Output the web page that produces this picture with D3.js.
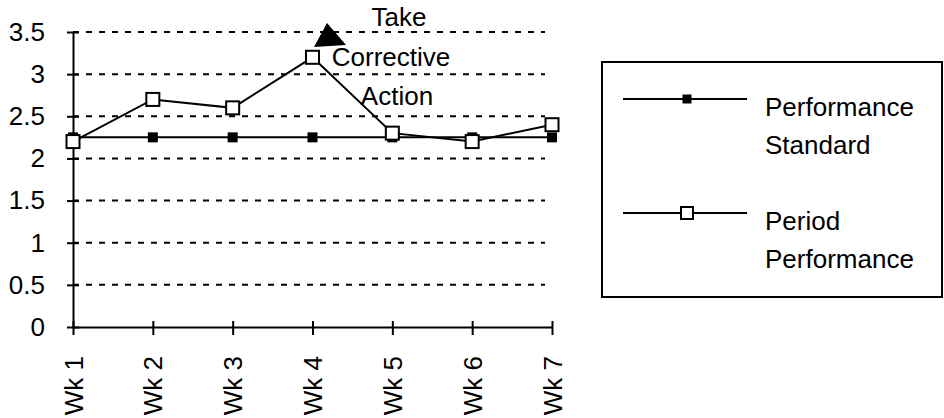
<!DOCTYPE html>
<html>
<head>
<meta charset="utf-8">
<script src="https://cdn.jsdelivr.net/npm/d3@7"></script>
<style>
  body { margin: 0; background: #fff; }
  svg { display: block; font-family: "Liberation Sans", Arial, sans-serif; }
</style>
</head>
<body>
<div id="chart"></div>
<script>
// data
const weeks = ["Wk 1", "Wk 2", "Wk 3", "Wk 4", "Wk 5", "Wk 6", "Wk 7"];
const standard = [2.25, 2.25, 2.25, 2.25, 2.25, 2.25, 2.25];
const period = [2.2, 2.7, 2.6, 3.2, 2.3, 2.2, 2.4];
const yTicks = [0, 0.5, 1, 1.5, 2, 2.5, 3, 3.5];
const noteLines = ["Take", "Corrective", "Action"];
const legendNames = [["Performance", "Standard"], ["Period", "Performance"]];

const width = 944, height = 418;
const svg = d3.select("#chart")
  .append("svg")
  .attr("width", width)
  .attr("height", height);

const x = d3.scalePoint()
  .domain(weeks)
  .range([73, 552]);
const y = d3.scaleLinear()
  .domain([0, 3.5])
  .range([327, 32]);

// dashed gridlines
svg.append("g")
  .selectAll("line")
  .data(yTicks.filter(d => d > 0))
  .enter().append("line")
  .attr("x1", x(weeks[0]))
  .attr("x2", 545)
  .attr("y1", d => y(d))
  .attr("y2", d => y(d))
  .attr("stroke", "#000")
  .attr("stroke-width", 2)
  .attr("stroke-dasharray", "6,7");

// y axis
const yAxis = svg.append("g")
  .attr("transform", `translate(${x(weeks[0])},0)`)
  .call(d3.axisLeft(y).tickValues(yTicks).tickSizeOuter(0).tickPadding(22).tickFormat(d3.format("")));
yAxis.select(".domain").attr("stroke-width", 2);
yAxis.selectAll(".tick line").attr("x1", 6).attr("x2", -6).attr("stroke-width", 2);
yAxis.selectAll(".tick text").attr("font-size", 26).attr("font-family", "Liberation Sans, Arial, sans-serif").attr("fill", "#000");

// x axis
const xAxis = svg.append("g")
  .attr("transform", `translate(0,${y(0)})`)
  .call(d3.axisBottom(x).tickSizeOuter(0));
xAxis.select(".domain").attr("stroke-width", 2);
xAxis.selectAll(".tick line").attr("y1", -6).attr("y2", 8).attr("stroke-width", 2);
xAxis.selectAll(".tick text")
  .attr("font-size", 26)
  .attr("font-family", "Liberation Sans, Arial, sans-serif")
  .attr("fill", "#000")
  .attr("text-anchor", "end")
  .attr("transform", "rotate(-90)")
  .attr("x", -29)
  .attr("y", 0)
  .attr("dy", "0.35em");

const line = d3.line()
  .x((d, i) => x(weeks[i]))
  .y(d => y(d));

// performance standard
svg.append("path")
  .datum(standard)
  .attr("fill", "none")
  .attr("stroke", "#000")
  .attr("stroke-width", 2)
  .attr("d", line);
svg.selectAll(".std")
  .data(standard)
  .enter().append("rect")
  .attr("class", "std")
  .attr("x", (d, i) => x(weeks[i]) - 5)
  .attr("y", d => y(d) - 5)
  .attr("width", 10)
  .attr("height", 10)
  .attr("fill", "#000");

// period performance
svg.append("path")
  .datum(period)
  .attr("fill", "none")
  .attr("stroke", "#000")
  .attr("stroke-width", 2)
  .attr("d", line);
svg.selectAll(".per")
  .data(period)
  .enter().append("rect")
  .attr("class", "per")
  .attr("x", (d, i) => x(weeks[i]) - 6.5)
  .attr("y", d => y(d) - 6.5)
  .attr("width", 13)
  .attr("height", 13)
  .attr("fill", "#fff")
  .attr("stroke", "#000")
  .attr("stroke-width", 2);

// annotation arrowhead and text
svg.append("path")
  .attr("d", "M327,23 L314,47 L346,45 Z")
  .attr("fill", "#000");
svg.selectAll(".note")
  .data(noteLines)
  .enter().append("text")
  .attr("class", "note")
  .attr("x", (d, i) => [399, 391, 397][i])
  .attr("y", (d, i) => 26 + i * 39.5)
  .attr("text-anchor", "middle")
  .attr("font-size", 26)
  .text(d => d);

// legend
const legend = svg.append("g");
legend.append("rect")
  .attr("x", 602)
  .attr("y", 62)
  .attr("width", 340)
  .attr("height", 235)
  .attr("fill", "#fff")
  .attr("stroke", "#000")
  .attr("stroke-width", 2);

const items = legend.selectAll(".item")
  .data(legendNames)
  .enter().append("g")
  .attr("class", "item")
  .attr("transform", (d, i) => `translate(0,${99 + i * 114})`);
items.append("line")
  .attr("x1", 623).attr("x2", 747)
  .attr("stroke", "#000").attr("stroke-width", 2);
items.append("rect")
  .attr("x", (d, i) => i === 0 ? 682.5 : 681)
  .attr("y", (d, i) => i === 0 ? -4.5 : -6)
  .attr("width", (d, i) => i === 0 ? 9 : 12)
  .attr("height", (d, i) => i === 0 ? 9 : 12)
  .attr("fill", (d, i) => i === 0 ? "#000" : "#fff")
  .attr("stroke", "#000")
  .attr("stroke-width", (d, i) => i === 0 ? 0 : 2);
items.each(function(d) {
  d3.select(this).selectAll("text")
    .data(d)
    .enter().append("text")
    .attr("x", 765)
    .attr("y", (t, j) => 17 + j * 37.5)
    .attr("font-size", 26)
    .text(t => t);
});
</script>
</body>
</html>
